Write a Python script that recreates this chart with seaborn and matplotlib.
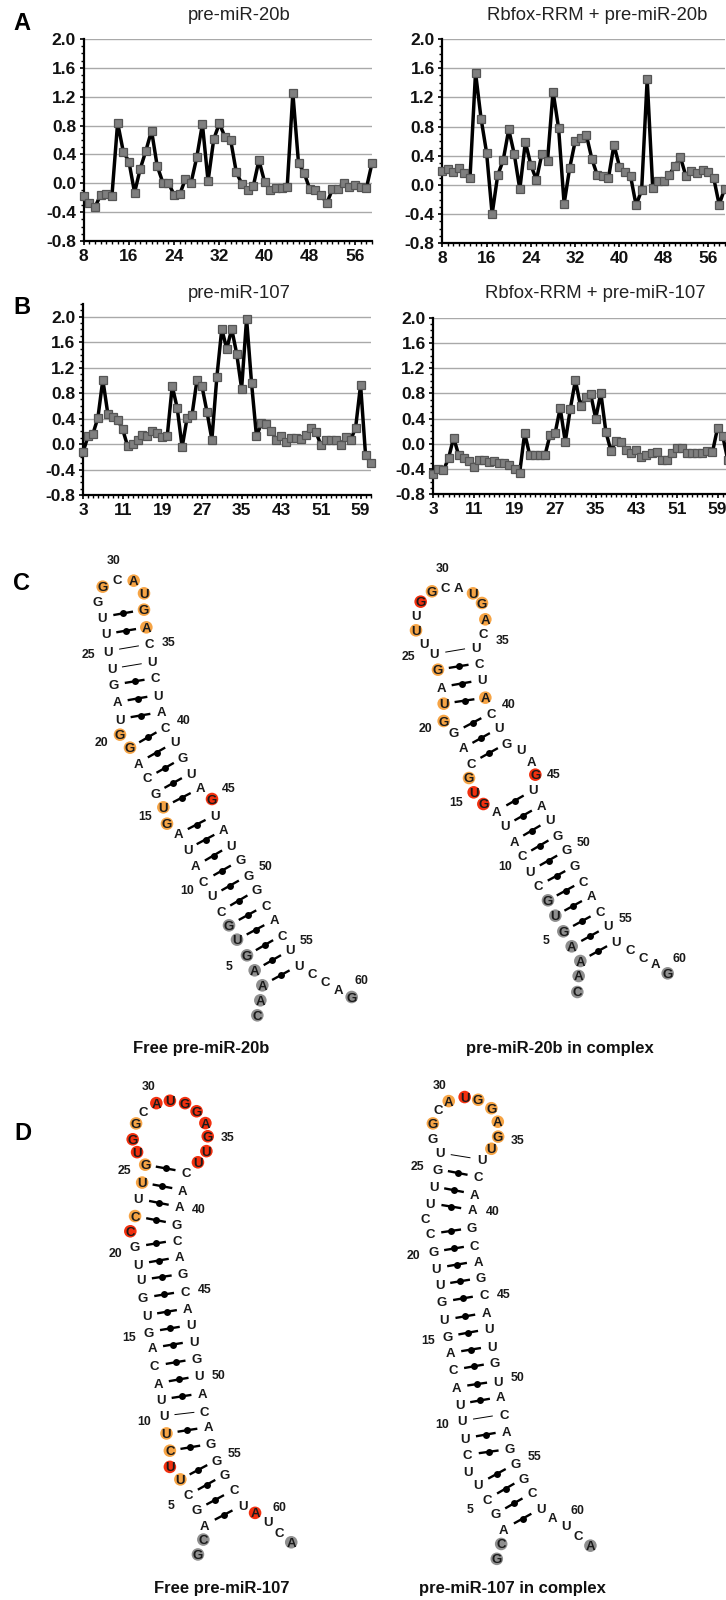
import matplotlib
matplotlib.use("Agg")
import matplotlib.pyplot as plt
import numpy as np
import seaborn as sns
from matplotlib.ticker import MultipleLocator, FixedLocator

sns.set_theme(style="white")
plt.rcParams['font.family'] = ['Liberation Sans', 'DejaVu Sans']

W, H = 726, 1600

# ---- reactivity profiles (panels A, B) ----
A_POS = list(range(8, 60))
A1_VAL = [-.18,-.27,-.33,-.16,-.15,-.17,.84,.44,.30,-.13,.20,.45,.73,.24,.01,.0,-.16,-.15,.06,.01,.36,.82,.03,.61,.83,.64,.60,.15,-.01,-.10,-.04,.32,.02,-.09,-.07,-.06,-.05,1.25,.28,.14,-.08,-.10,-.16,-.28,-.08,-.08,.01,-.05,-.03,-.05,-.07,.28]
A2_VAL = [.19,.22,.18,.23,.16,.09,1.54,.91,.44,-.40,.13,.34,.76,.42,-.06,.59,.27,.07,.43,.33,1.28,.78,-.26,.23,.60,.65,.69,.36,.13,.12,.09,.55,.25,.18,.12,-.28,-.07,1.45,-.04,.05,.05,.14,.26,.38,.12,.19,.16,.21,.18,.10,-.27,-.05]
B_POS = list(range(3, 62))
B1_VAL = [-.13,.12,.16,.41,1.01,.48,.42,.38,.23,-.03,.0,.06,.15,.12,.20,.18,.11,.13,.91,.57,-.05,.41,.46,1.01,.91,.51,.07,1.05,1.81,1.49,1.81,1.42,.87,1.97,.96,.12,.33,.31,.21,.07,.13,.04,.09,.10,.08,.14,.26,.19,-.02,.06,.06,.06,-.01,.11,.06,.26,.93,-.17,-.29]
B2_VAL = [-.48,-.40,-.42,-.23,.10,-.18,-.22,-.27,-.36,-.25,-.25,-.28,-.27,-.30,-.30,-.33,-.40,-.47,.17,-.18,-.18,-.18,-.18,.14,.17,.57,.03,.56,1.01,.60,.75,.79,.40,.81,.19,-.11,.05,.03,-.10,-.14,-.10,-.21,-.18,-.15,-.13,-.25,-.25,-.15,-.06,-.07,-.14,-.15,-.15,-.14,-.11,-.13,.25,.13,-.25]
A_TITLES = ["pre-miR-20b", "Rbfox-RRM + pre-miR-20b"]
B_TITLES = ["pre-miR-107", "Rbfox-RRM + pre-miR-107"]

# ---- secondary structures (panels C, D): nucleotides from 5' to 3' ----
C1_SEQ = "CAAAGUGCUCAUAGUGCAGGUAGUUUUGGCAUGACUCUACUGUAGUAUGGGCACUUCCAG"
C1_X = [592,601,607,584,561,531,507,483,455,431,407,383,355,321,310,286,262,234,210,180,179,172,162,155,145,138,127,114,128,172,221,252,252,259,269,276,286,293,304,317,345,369,393,421,456,465,490,514,542,566,590,618,642,666,690,718,756,796,835,875]
C1_Y = [1426,1381,1336,1291,1246,1199,1156,1113,1068,1023,978,927,882,851,802,759,714,669,623,584,537,486,434,386,333,282,231,185,140,117,122,160,209,262,312,366,414,465,516,561,606,653,699,744,777,825,870,915,960,1005,1050,1095,1140,1185,1230,1275,1299,1323,1347,1371]
C1_ORANGE = [14,15,19,20,29,31,32,33,34]
C1_RED = [45]
C1_GRAY = [1,2,3,4,5,6,7,60]
C1_STEMS = [(3,56,11),(15,44,5),(21,39,3),(26,34,2)]
C1_THIN = [(24,36,2)]
C1_NUM = [(30,162,57),(35,327,306),(25,85,342),(40,372,537),(20,123,606),(45,507,744),(15,255,825),(50,617,978),(10,380,1050),(55,741,1200),(5,507,1275),(60,904,1320)]

C2_SEQ = C1_SEQ
C2_X = [622,626,631,605,580,556,534,504,480,456,432,404,380,340,311,297,304,280,252,221,221,214,204,193,162,138,138,152,186,226,266,309,336,346,339,318,328,335,346,363,387,411,453,484,496,490,515,539,563,591,615,639,663,691,715,739,780,819,857,893]
C2_Y = [1356,1308,1263,1219,1174,1127,1081,1038,993,948,903,858,813,792,757,714,669,624,578,543,491,441,389,342,309,271,228,185,154,141,141,160,189,238,279,321,369,420,473,519,564,609,627,663,704,750,795,840,885,930,977,1023,1068,1113,1158,1203,1227,1251,1272,1300]
C2_ORANGE = [16,20,21,23,26,29,32,33,34,39]
C2_RED = [14,15,28,45]
C2_GRAY = [1,2,3,4,5,6,7,60]
C2_STEMS = [(3,56,11),(17,42,3),(21,39,3)]
C2_THIN = [(24,36,1)]
C2_NUM = [(30,218,81),(35,397,297),(25,114,348),(40,417,492),(20,165,561),(45,552,702),(15,259,786),(50,642,903),(10,405,975),(55,766,1131),(5,528,1200),(60,928,1251)]

D1_SEQ = "GCAGCUUCUUUACAGUGUUGCCUUGUGGCAUGGAGUUCAAGCAGCAUUGUACAGGGCUAUCA"
D1_X = [408,424,428,404,380,356,325,325,315,308,298,291,280,273,262,256,246,239,232,222,208,222,232,243,252,228,215,225,246,285,325,370,404,430,437,433,408,373,363,353,346,346,353,363,370,377,388,395,404,411,421,428,439,446,463,487,514,540,577,614,649,684]
D1_Y = [1433,1389,1346,1301,1257,1211,1174,1126,1075,1023,975,926,875,822,775,725,674,621,574,523,477,432,381,333,280,243,205,158,124,98,91,98,122,157,196,240,273,302,355,405,456,503,553,603,654,705,754,802,854,905,956,1009,1056,1106,1154,1197,1242,1287,1310,1337,1367,1397]
D1_ORANGE = [6,8,9,22,24,25,28]
D1_RED = [7,21,26,27,30,31,32,33,34,35,36,37,59]
D1_GRAY = [1,2,62]
D1_STEMS = [(3,58,4),(8,54,2),(11,51,10),(22,41,4)]
D1_THIN = [(10,52,1)]
D1_NUM = [(30,263,45),(35,497,198),(25,190,293),(40,411,411),(20,163,539),(45,428,646),(15,205,788),(50,469,900),(10,250,1036),(55,517,1131),(5,328,1286),(60,648,1291)]

D2_SEQ = D1_SEQ
D2_X = [375,388,396,372,348,320,289,289,282,272,265,255,247,237,230,220,213,206,195,188,178,164,178,188,199,206,185,186,202,233,280,320,359,378,379,359,330,320,309,303,302,309,320,327,337,344,351,361,368,379,386,396,403,413,431,455,479,507,541,579,617,652]
D2_Y = [1446,1402,1358,1313,1269,1225,1189,1138,1089,1038,988,938,887,837,788,739,686,635,586,538,485,438,394,344,293,245,203,158,118,92,80,88,113,153,197,233,265,316,367,414,467,518,565,615,665,718,766,817,866,920,967,1018,1068,1121,1164,1207,1251,1296,1325,1348,1378,1407]
D2_ORANGE = [28,30,32,33,34,35,36]
D2_RED = [31]
D2_GRAY = [1,2,62]
D2_STEMS = [(3,58,4),(8,54,2),(11,51,11),(23,40,3)]
D2_THIN = [(10,52,1),(26,37,1)]
D2_NUM = [(30,206,42),(35,437,207),(25,140,282),(40,362,417),(20,129,547),(45,396,660),(15,171,796),(50,437,908),(10,213,1045),(55,486,1139),(5,296,1296),(60,614,1299)]

ORANGE, RED, GRAY = "#F6A445", "#F2300F", "#8F8F8F"

fig = plt.figure(figsize=(W / 100, H / 100), dpi=100, facecolor="white")


def px_axes(l, t, r, b):
    return fig.add_axes([l / W, 1 - b / H, (r - l) / W, (b - t) / H])


def profile(box, pos, val, ymax, xstep, title, tx, ty):
    ax = px_axes(*box)
    sns.lineplot(x=pos, y=val, ax=ax, color="black", lw=2.5, marker="s", markersize=5.6,
                 markerfacecolor="#7F7F7F", markeredgecolor="#555555", markeredgewidth=0.9,
                 clip_on=False, zorder=5)
    ax.set_xlim(pos[0], pos[-1])
    ax.set_ylim(-0.8, ymax)
    ax.yaxis.set_major_locator(FixedLocator([-0.8, -0.4, 0, 0.4, 0.8, 1.2, 1.6, 2.0]))
    ax.yaxis.set_minor_locator(MultipleLocator(0.1))
    ax.set_yticklabels(["-0.8", "-0.4", "0.0", "0.4", "0.8", "1.2", "1.6", "2.0"])
    ax.xaxis.set_major_locator(FixedLocator(list(range(pos[0], pos[-1] + 1, xstep))))
    ax.xaxis.set_minor_locator(MultipleLocator(1))
    ax.grid(axis="y", which="major", color="#A9A9A9", lw=1.0)
    ax.set_axisbelow(True)
    for s in ("top", "right"):
        ax.spines[s].set_visible(False)
    for s in ("left", "bottom"):
        ax.spines[s].set_linewidth(1.6)
        ax.spines[s].set_color("black")
    ax.tick_params(axis="both", which="major", direction="out", length=3.0, width=1.2,
                   color="black", left=True, bottom=True, pad=2.5)
    ax.tick_params(axis="both", which="minor", direction="out", length=2.4, width=1.0,
                   color="black", left=True, bottom=True)
    for lab in ax.get_xticklabels() + ax.get_yticklabels():
        lab.set_fontsize(12.5)
        lab.set_fontweight("bold")
        lab.set_color("#111111")
    fig.text(tx / W, 1 - ty / H, title, ha="center", va="center", fontsize=13.3, color="#222222")
    return ax


profile((83.7, 39, 372, 241), A_POS, A1_VAL, 2.0, 8, A_TITLES[0], 239, 16)
profile((442.3, 39, 724.7, 243.3), A_POS, A2_VAL, 2.0, 8, A_TITLES[1], 597, 15)
profile((83, 304, 370.5, 495), B_POS, B1_VAL, 2.2, 8, B_TITLES[0], 239, 293)
profile((433.3, 317.7, 727.7, 494.3), B_POS, B2_VAL, 2.0, 8, B_TITLES[1], 595, 293)

ov = fig.add_axes([0, 0, 1, 1], facecolor="none")
ov.set_xlim(0, W)
ov.set_ylim(H, 0)
ov.axis("off")


def structure(off, zoom, seq, xs, ys, orange, red, gray, stems, thin, nums):
    ox, oy = off
    x = np.array(xs) / zoom + ox
    y = np.array(ys) / zoom + oy
    for idx, col in ((orange, ORANGE), (red, RED), (gray, GRAY)):
        i = np.array(idx) - 1
        sns.scatterplot(x=x[i], y=y[i], ax=ov, s=82, color=col, edgecolor="none", legend=False, zorder=2)

    def bond(a, b, lw, dot):
        xa, ya, xb, yb = x[a - 1], y[a - 1], x[b - 1], y[b - 1]
        mx, my = (xa + xb) / 2, (ya + yb) / 2
        d = np.hypot(xb - xa, yb - ya)
        ux, uy = (xb - xa) / d * 10, (yb - ya) / d * 10
        ov.plot([mx - ux, mx + ux], [my - uy, my + uy], color="black", lw=lw, solid_capstyle="butt", zorder=3)
        if dot:
            ov.plot([mx], [my], "o", color="black", ms=5, mew=0, zorder=3)

    for i, j, n in stems:
        for k in range(n):
            bond(i + k, j - k, 1.7, True)
    for i, j, n in thin:
        for k in range(n):
            bond(i + k, j - k, 0.7, False)
    for ch, a, b in zip(seq, x, y):
        ov.text(a, b, ch, ha="center", va="center_baseline", fontsize=9.5, fontweight="bold", color="#1a1a1a", zorder=4)
    for n, a, b in nums:
        ov.text(a / zoom + ox, b / zoom + oy, str(n), ha="center", va="center_baseline", fontsize=8.8,
                fontweight="bold", color="#1a1a1a", zorder=4)


structure((60, 540), 3.0, C1_SEQ, C1_X, C1_Y, C1_ORANGE, C1_RED, C1_GRAY, C1_STEMS, C1_THIN, C1_NUM)
structure((370, 540), 3.0, C2_SEQ, C2_X, C2_Y, C2_ORANGE, C2_RED, C2_GRAY, C2_STEMS, C2_THIN, C2_NUM)
structure((60, 1070), 2.958, D1_SEQ, D1_X, D1_Y, D1_ORANGE, D1_RED, D1_GRAY, D1_STEMS, D1_THIN, D1_NUM)
structure((370, 1070), 2.958, D2_SEQ, D2_X, D2_Y, D2_ORANGE, D2_RED, D2_GRAY, D2_STEMS, D2_THIN, D2_NUM)

for txt, a, b in [("Free pre-miR-20b", 201, 1048), ("pre-miR-20b in complex", 560, 1048),
                  ("Free pre-miR-107", 222, 1589), ("pre-miR-107 in complex", 512, 1589)]:
    ov.text(a, b, txt, ha="center", va="center", fontsize=12, fontweight="bold", color="#111111")
for txt, a, b in [("A", 22, 24), ("B", 22, 308), ("C", 21.5, 583), ("D", 22.5, 1133)]:
    ov.text(a, b, txt, ha="center", va="center", fontsize=17, fontweight="bold", color="black")

fig.savefig("out.png", dpi=100, facecolor="white")
